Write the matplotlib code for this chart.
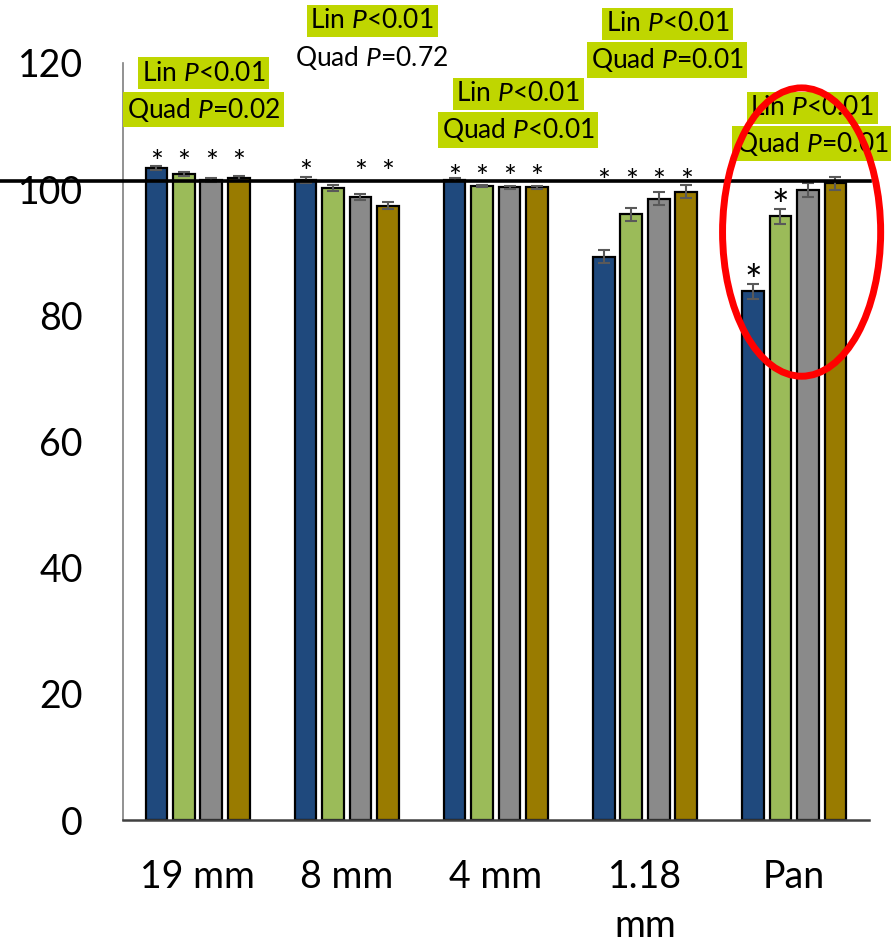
import matplotlib
matplotlib.use('Agg')
import matplotlib.pyplot as plt
import matplotlib.transforms as mtransforms
from matplotlib.patches import Ellipse
import numpy as np

plt.rcParams['font.family'] = ['Lato', 'DejaVu Sans']
plt.rcParams['mathtext.fontset'] = 'custom'
plt.rcParams['mathtext.rm'] = 'Lato'
plt.rcParams['mathtext.it'] = 'Lato:italic'

categories = ['19 mm', '8 mm', '4 mm', '1.18\nmm', 'Pan']
blue_vals = [103.4, 101.5, 101.5, 89.3, 83.8]
green_vals = [102.4, 100.2, 100.5, 96.0, 95.7]
gray_vals = [101.5, 98.8, 100.3, 98.5, 99.9]
gold_vals = [101.8, 97.4, 100.3, 99.6, 100.9]
blue_err = [0.3, 0.5, 0.2, 1.0, 1.2]
green_err = [0.3, 0.5, 0.2, 1.05, 1.15]
gray_err = [0.3, 0.5, 0.2, 1.05, 1.1]
gold_err = [0.3, 0.5, 0.2, 1.05, 1.1]
ref_level = 101.3

# significance stars: row of small stars per group, big stars sit on the bar
star_flags = [[1, 1, 1, 1], [1, 0, 1, 1], [1, 1, 1, 1], [1, 1, 1, 1], [1, 1, 0, 0]]
star_rows = [105.7, 104.2, 103.4, 102.7, None]

lin_labels = ['Lin $P$<0.01'] * 5
quad_labels = ['Quad $P$=0.02', 'Quad $P$=0.72', 'Quad $P$<0.01',
               'Quad $P$=0.01', 'Quad $P$=0.01']
quad_highlight = [True, False, True, True, True]

colors = ['#1F497D', '#9BBB59', '#8A8A8A', '#997B00']
series = [blue_vals, green_vals, gray_vals, gold_vals]
errors = [blue_err, green_err, gray_err, gold_err]

fig = plt.figure(figsize=(8.91, 9.43), dpi=100)
ax = fig.add_axes([0.138, 0.1304, 0.837, 0.8028])

x = np.arange(len(categories))
offsets = np.array([-1.5, -0.5, 0.5, 1.5]) * 0.184
width = 0.145

for vals, errs, col, off in zip(series, errors, colors, offsets):
    ax.bar(x + off, vals, width, color=col, edgecolor='black', linewidth=1.6, zorder=2)
    ax.errorbar(x + off, vals, yerr=errs, fmt='none', ecolor='#595959',
                elinewidth=1.5, capsize=4, capthick=1.5, zorder=3)

# reference line runs out past the left of the axes
trans = mtransforms.blended_transform_factory(ax.transAxes, ax.transData)
ax.plot([-0.166, 1.002], [ref_level, ref_level], color='black', lw=2.6,
        transform=trans, clip_on=False, zorder=4)

for i in range(len(categories)):
    for j in range(4):
        if not star_flags[i][j]:
            continue
        if star_rows[i] is not None:
            ax.text(x[i] + offsets[j], star_rows[i] - 3.0, '*', ha='center',
                    va='baseline', fontsize=22, zorder=5)
        else:
            top = series[j][i] + errors[j][i]
            ax.text(x[i] + offsets[j], top + 2.3 - 4.1, '*', ha='center',
                    va='baseline', fontsize=30, zorder=5)

lin_y = [118.4, 126.7, 115.1, 126.2, 112.9]
quad_y = [112.6, 120.8, 109.4, 120.5, 107.2]
text_x = [0.04, 1.17, 2.15, 3.15, 4.12]
hl = dict(boxstyle='square,pad=0.14', facecolor='#BFD600', edgecolor='none')
for i in range(len(categories)):
    ax.text(text_x[i], lin_y[i], lin_labels[i], ha='center', va='center',
            fontsize=19, bbox=hl, clip_on=False, zorder=6)
    ax.text(text_x[i], quad_y[i], quad_labels[i], ha='center', va='center',
            fontsize=19, bbox=hl if quad_highlight[i] else None,
            clip_on=False, zorder=6)

ring = Ellipse((4.05, 93.2), 1.06, 45.7, fill=False, edgecolor='#FF0000',
               linewidth=5, clip_on=False, zorder=7)
ax.add_patch(ring)

ax.set_xlim(-0.5, 4.5)
ax.set_ylim(0, 120)
ax.set_yticks([0, 20, 40, 60, 80, 100, 120])
ax.set_xticks(x)
ax.set_xticklabels(categories)
for lab in ax.get_xticklabels():
    lab.set_linespacing(1.45)
ax.tick_params(axis='both', length=0, labelsize=27)
ax.tick_params(axis='y', pad=29)
ax.tick_params(axis='x', pad=28)

ax.spines['top'].set_visible(False)
ax.spines['right'].set_visible(False)
ax.spines['left'].set_color('#7F7F7F')
ax.spines['left'].set_linewidth(1.2)
ax.spines['bottom'].set_color('#404040')
ax.spines['bottom'].set_linewidth(1.8)

fig.savefig('out.png', dpi=100)
